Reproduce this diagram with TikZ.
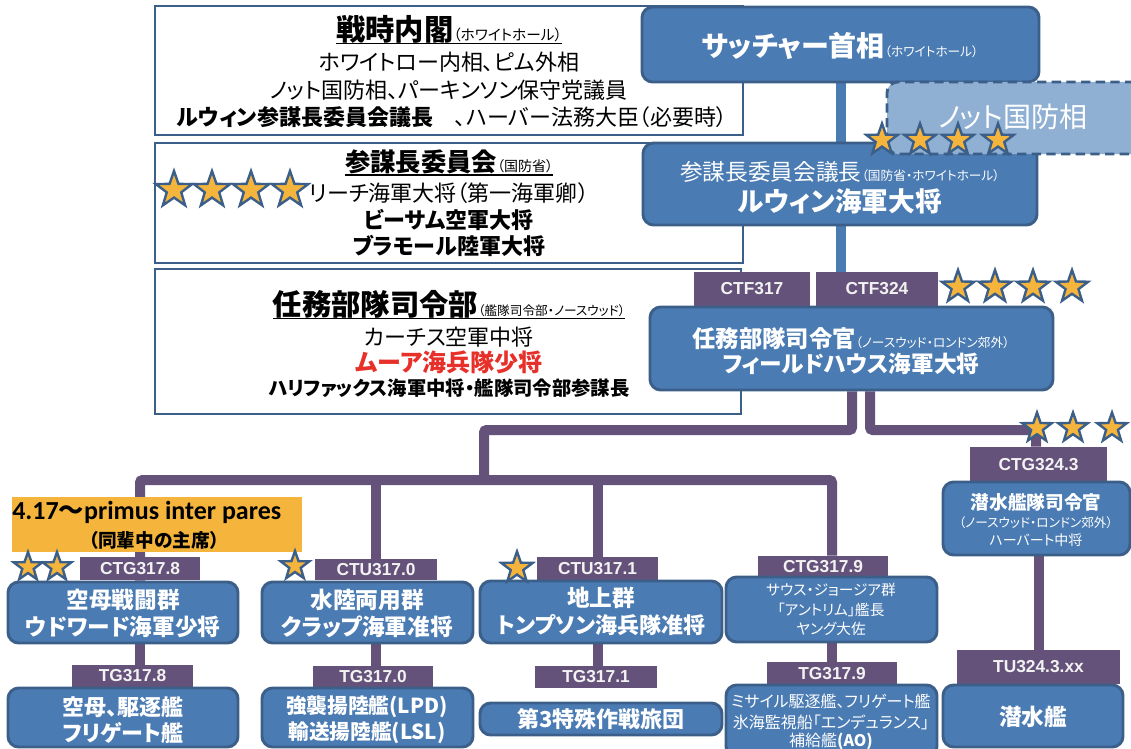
\documentclass[tikz,border=0pt]{standalone}
\usepackage{fontspec}
\setmainfont{Noto Sans CJK JP}[RawFeature=+palt]
\newfontfamily\labfont{Liberation Sans}
\newfontfamily\carlito{Carlito}
\usetikzlibrary{shapes.geometric,backgrounds}
\definecolor{bfill}{HTML}{4A7BB3}
\definecolor{bdraw}{HTML}{3C5F89}
\definecolor{purp}{HTML}{65527A}
\definecolor{orng}{HTML}{F5B43C}
\definecolor{nfill}{HTML}{8FB0D2}
\definecolor{redt}{HTML}{E8302A}
\definecolor{ltxt}{HTML}{F2F2F2}
\newcommand\fsz[1]{\fontsize{#1pt}{#1pt}\selectfont}
\newcommand\myul[1]{\setbox0=\hbox{#1}\rlap{\rule[-2.8pt]{\wd0}{1.2pt}}\box0}
\tikzset{
 sz/.style 2 args={minimum width=#1*0.75pt, minimum height=#2*0.75pt},
 wbox/.style={draw=bdraw, fill=white, line width=2.2pt, inner sep=0pt},
 bbox/.style={draw=bdraw, fill=bfill, line width=2.2pt, rounded corners=8pt, inner sep=0pt},
 nbox/.style={draw=bdraw, fill=nfill, line width=2.2pt, rounded corners=8pt, inner sep=0pt, dash pattern=on 7pt off 4pt},
 lbl/.style={fill=purp, inner sep=0pt, text=ltxt, font=\labfont\bfseries\fsz{13}},
 obox/.style={fill=orng, inner sep=0pt},
 st/.style={star, star points=5, star point ratio=2.5, fill=orng, draw=bdraw, line width=1.8pt, inner sep=0pt, minimum size=#1*0.75pt},
 pline/.style={draw=purp, line width=7.5pt, rounded corners=2pt},
 bline/.style={draw=bfill, line width=7.5pt},
 txt/.style={inner sep=0pt, align=center},
 wt/.style={inner sep=0pt, align=center, text=white},
}
\begin{document}
\begin{tikzpicture}[x=0.75pt,y=-0.75pt]
\useasboundingbox (0,0) rectangle (1131,749);
\clip (0,0) rectangle (1131,749);

% ---- white boxes on the left
\node[wbox, sz={588}{129}] (b1) at (449,70.5) {};
\node[txt] (b1t) at (449,30) {\myul{{\fsz{22}\bfseries 戦時内閣}{\fsz{11}（ホワイトホール）}}};
\node[txt, font=\fsz{16.5}] (b1l1) at (449,62) {ホワイトロー内相、ピム外相};
\node[txt, font=\fsz{16.5}] (b1l2) at (449,90) {ノット国防相、パーキンソン保守党議員};
\node[txt, font=\fsz{16.5}] (b1l3) at (452,117) {{\bfseries ルウィン参謀長委員会議長}　、ハーバー法務大臣（必要時）};

\node[wbox, sz={588}{120}] (b2) at (449,203) {};
\node[txt] (b2t) at (449,163) {\myul{{\fsz{19}\bfseries 参謀長委員会}{\fsz{10.5}（国防省）}}};
\node[txt, font=\fsz{16.5}] (b2l1) at (449,193) {リーチ海軍大将（第一海軍卿）};
\node[txt, font=\fsz{16.5}\bfseries] (b2l2) at (449,220) {ビーサム空軍大将};
\node[txt, font=\fsz{16.5}\bfseries] (b2l3) at (449,246) {ブラモール陸軍大将};

\node[wbox, sz={586}{145}] (b3) at (448,341.5) {};
\node[txt] (b3t) at (449,305) {\myul{{\fsz{22}\bfseries 任務部隊司令部}{\fsz{9.5}（艦隊司令部・ノースウッド）}}};
\node[txt, font=\fsz{16.5}] (b3l1) at (449,337) {カーチス空軍中将};
\node[txt, font=\fsz{18}\bfseries, text=redt] (b3l2) at (449,362) {ムーア海兵隊少将};
\node[txt, font=\fsz{14.5}\bfseries] (b3l3) at (449,388) {ハリファックス海軍中将・艦隊司令部参謀長};

% ---- command chain on the right
\node[bbox, sz={397}{75}] (pm) at (840.5,44.5) {};
\node[wt] (pmt) at (840,46) {{\fsz{21}\bfseries サッチャー首相}{\fsz{9.5}（ホワイトホール）}};

\node[bbox, sz={394}{82}] (cds) at (840,184) {};
\node[wt] (cdst1) at (840,172) {{\fsz{17}参謀長委員会議長}{\fsz{9.5}（国防省・ホワイトホール）}};
\node[wt, font=\fsz{20}\bfseries] (cdst2) at (840,201) {ルウィン海軍大将};

\node[nbox, sz={258}{72}] (nott) at (1016,118) {};
\node[wt, font=\fsz{21}] (nottt) at (1013,117) {ノット国防相};

\node[lbl, sz={116}{34}] (ctf317) at (752,289) {CTF317};
\node[lbl, sz={122}{34}] (ctf324) at (877,289) {CTF324};

\node[bbox, sz={403}{83}] (fh) at (851.5,348.5) {};
\node[wt] (fht1) at (851,339) {{\fsz{17.5}\bfseries 任務部隊司令官}{\fsz{9.5}（ノースウッド・ロンドン郊外）}};
\node[wt, font=\fsz{17}\bfseries] (fht2) at (851,364) {フィールドハウス海軍大将};

% ---- column 1
\node[obox, sz={290}{55}] (pip) at (157,524.5) {};
\node[inner sep=0pt, anchor=west] (pipt1) at (12,512) {{\carlito\bfseries\fsz{19.5}4.17}{\bfseries\fsz{19}～}{\carlito\bfseries\fsz{19.5}primus inter pares}};
\node[txt, font=\fsz{14}\bfseries] (pipt2) at (154,540) {（同輩中の主席）};

\node[lbl, sz={120}{23}] (ctg178) at (140,568.5) {CTG317.8};
\node[bbox, sz={230}{61}] (b1a) at (123,612.5) {};
\node[wt, font=\fsz{17}\bfseries] (b1a1) at (123,600) {空母戦闘群};
\node[wt, font=\fsz{17}\bfseries] (b1a2) at (123,627) {ウドワード海軍少将};
\node[lbl, sz={121}{22}] (tg178) at (132.5,676) {TG317.8};
\node[bbox, sz={230}{59}] (b1b) at (123,717.5) {};
\node[wt, font=\fsz{16.5}\bfseries] (b1b1) at (123,707) {空母、駆逐艦};
\node[wt, font=\fsz{16.5}\bfseries] (b1b2) at (123,733) {フリゲート艦};

% ---- column 2
\node[lbl, sz={122}{21}] (ctu170) at (376,569.5) {CTU317.0};
\node[bbox, sz={211}{61}] (b2a) at (367.5,612.5) {};
\node[wt, font=\fsz{17}\bfseries] (b2a1) at (367,600) {水陸両用群};
\node[wt, font=\fsz{17}\bfseries] (b2a2) at (367,627) {クラップ海軍准将};
\node[lbl, sz={120}{21}] (tg170) at (373,676.5) {TG317.0};
\node[bbox, sz={211}{59}] (b2b) at (367.5,717.5) {};
\node[wt, font=\fsz{15.5}\bfseries] (b2b1) at (367,707) {強襲揚陸艦(LPD)};
\node[wt, font=\fsz{15.5}\bfseries] (b2b2) at (367,733) {輸送揚陸艦(LSL)};

% ---- column 3
\node[lbl, sz={121}{23}] (ctu171) at (597.5,568.5) {CTU317.1};
\node[bbox, sz={242}{62}] (b3a) at (601,612) {};
\node[wt, font=\fsz{17}\bfseries] (b3a1) at (601,598) {地上群};
\node[wt, font=\fsz{16.5}\bfseries] (b3a2) at (601,625) {トンプソン海兵隊准将};
\node[lbl, sz={122}{22}] (tg171) at (596,677) {TG317.1};
\node[bbox, sz={242}{32}] (b3b) at (601,719) {};
\node[wt, font=\fsz{16.5}\bfseries] (b3b1) at (601,719) {第3特殊作戦旅団};

% ---- column 4
\node[lbl, sz={130}{21}] (ctg179) at (823,566.5) {CTG317.9};
\node[bbox, sz={211}{65}] (b4a) at (831.5,609.5) {};
\node[wt, font=\fsz{11}] (b4a1) at (831,590) {サウス・ジョージア群};
\node[wt, font=\fsz{11}] (b4a2) at (831,610) {「アントリム」艦長};
\node[wt, font=\fsz{11}] (b4a3) at (831,629) {ヤング大佐};
\node[lbl, sz={130}{23}] (tg179) at (832,673.5) {TG317.9};
\node[bbox, sz={211}{72}] (b4b) at (831.5,721) {};
\node[wt, font=\fsz{12}] (b4b1) at (831,701) {ミサイル駆逐艦、フリゲート艦};
\node[wt, font=\fsz{12}] (b4b2) at (831,722) {氷海監視船「エンデュランス」};
\node[wt, font=\fsz{12}] (b4b3) at (831,741) {補給艦{\bfseries (AO)}};

% ---- column 5 (submarines)
\node[lbl, sz={137}{35}] (ctg243) at (1038.5,464.5) {CTG324.3};
\node[bbox, sz={187}{73}] (b5a) at (1036.5,518.5) {};
\node[wt, font=\fsz{14}\bfseries] (b5a1) at (1036,502) {潜水艦隊司令官};
\node[wt, font=\fsz{9.5}] (b5a2) at (1036,523) {（ノースウッド・ロンドン郊外）};
\node[wt, font=\fsz{10.5}] (b5a3) at (1036,540) {ハーバート中将};
\node[lbl, sz={163}{34}] (tu243) at (1038.5,667) {TU324.3.xx};
\node[bbox, sz={180}{62}] (b5b) at (1033,716) {};
\node[wt, font=\fsz{17}\bfseries] (b5b1) at (1033,717) {潜水艦};

% ---- stars
\node[st=38] (sa1) at (174,190) {};
\node[st=38] (sa2) at (212,190) {};
\node[st=38] (sa3) at (251,190) {};
\node[st=38] (sa4) at (290,190) {};
\node[st=33] (sb1) at (882,140) {};
\node[st=33] (sb2) at (920,140) {};
\node[st=33] (sb3) at (958,140) {};
\node[st=33] (sb4) at (998,140) {};
\node[st=34] (sc1) at (958,287) {};
\node[st=34] (sc2) at (995,287) {};
\node[st=34] (sc3) at (1033,287) {};
\node[st=34] (sc4) at (1072,287) {};
\node[st=31] (sd1) at (1037,428) {};
\node[st=31] (sd2) at (1073,428) {};
\node[st=31] (sd3) at (1112,428) {};
\node[st=30] (se1) at (28,567) {};
\node[st=30] (se2) at (57,567) {};
\node[st=30] (sf1) at (295,566) {};
\node[st=33] (sg1) at (517,568) {};

% ---- connectors
\coordinate (j1) at (852,430);
\coordinate (j2) at (484,430);
\coordinate (j3) at (484,480);
\coordinate (k1) at (870,430);
\coordinate (k2) at (1036,430);
\begin{scope}[on background layer]
\draw[bline] (pm.south) -- (pm.south |- cds.north);
\draw[bline] (pm.south |- cds.south) -- (pm.south |- fh.north);
\draw[pline] (fh.south -| j1) -- (j1) -- (j2) -- (j3);
\draw[pline] (b1a.north -| ctg178) -- (j3 -| ctg178) -- (j3 -| tg179) -- (ctg179.north -| tg179);
\draw[pline] (j3 -| ctu170) -- (ctu170.north);
\draw[pline] (j3 -| ctu171) -- (ctu171.north);
\draw[pline] (b1a.south -| ctg178) -- (tg178.north -| ctg178);
\draw[pline] (b2a.south -| ctu170) -- (tg170.north -| ctu170);
\draw[pline] (b3a.south -| ctu171) -- (tg171.north -| ctu171);
\draw[pline] (b4a.south -| tg179) -- (tg179.north);
\draw[pline] (fh.south -| k1) -- (k1) -- (k2) -- (ctg243.north -| k2);
\draw[pline] (b5a.south -| tu243) -- (tu243.north);
\end{scope}
\end{tikzpicture}
\end{document}
